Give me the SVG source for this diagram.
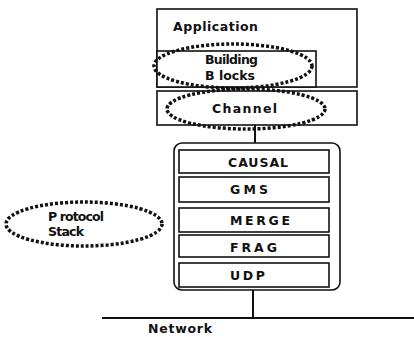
<svg xmlns="http://www.w3.org/2000/svg" width="414" height="337" viewBox="0 0 414 337">
<style>
.box{fill:#fff;stroke:#111;stroke-width:1.6}
.ell{fill:none;stroke:#111;stroke-width:3.5;stroke-dasharray:3 2}
.t{font-family:"DejaVu Sans","Liberation Sans",Arial,sans-serif;font-weight:bold;font-size:12.5px;fill:#111}
.ln{stroke:#111;stroke-width:2;fill:none}
</style>
<rect width="414" height="337" fill="#fff"/>
<g id="application">
<rect class="box" x="157" y="9" width="200" height="78"/>
<text class="t" x="173" y="31" textLength="85" lengthAdjust="spacing">Application</text>
</g>
<g id="building-blocks">
<rect class="box" x="157" y="51" width="159" height="36"/>
<ellipse class="ell" cx="233" cy="66" rx="79" ry="22"/>
<text class="t" x="205" y="64" textLength="53" lengthAdjust="spacing">Building</text>
<text class="t" x="205" y="80" textLength="50" lengthAdjust="spacing">B locks</text>
</g>
<g id="channel">
<rect class="box" x="157" y="91" width="200" height="34"/>
<ellipse class="ell" cx="246" cy="109" rx="79" ry="20"/>
<text class="t" x="212" y="113" textLength="65" lengthAdjust="spacing">Channel</text>
</g>
<g id="protocol-stack-label">
<ellipse class="ell" cx="84" cy="224" rx="78" ry="22"/>
<text class="t" x="48" y="221" textLength="56" lengthAdjust="spacing">P rotocol</text>
<text class="t" x="48" y="236" textLength="36" lengthAdjust="spacing">Stack</text>
</g>
<g id="connectors">
<line class="ln" x1="255" y1="125" x2="255" y2="143"/>
<line class="ln" x1="253" y1="290" x2="253" y2="318"/>
<line class="ln" x1="102" y1="318" x2="414" y2="318" stroke-width="1.4"/>
</g>
<g id="stack">
<rect class="box" x="174" y="143" width="166" height="147" rx="8" stroke-width="2"/>
</g>
<g id="causal">
<rect class="box" x="179" y="150" width="150" height="23"/>
<text class="t" x="228" y="167" textLength="60" lengthAdjust="spacing">CAUSAL</text>
</g>
<g id="gms">
<rect class="box" x="179" y="177" width="150" height="25"/>
<text class="t" x="230" y="194" textLength="38" lengthAdjust="spacing">GMS</text>
</g>
<g id="merge">
<rect class="box" x="179" y="208" width="150" height="24"/>
<text class="t" x="230" y="225" textLength="60" lengthAdjust="spacing">MERGE</text>
</g>
<g id="frag">
<rect class="box" x="179" y="235" width="150" height="22"/>
<text class="t" x="230" y="252" textLength="47" lengthAdjust="spacing">FRAG</text>
</g>
<g id="udp">
<rect class="box" x="179" y="263" width="150" height="24"/>
<text class="t" x="230" y="280" textLength="35" lengthAdjust="spacing">UDP</text>
</g>
<g id="network">
<text class="t" x="148" y="333" textLength="64" lengthAdjust="spacing">Network</text>
</g>
</svg>
